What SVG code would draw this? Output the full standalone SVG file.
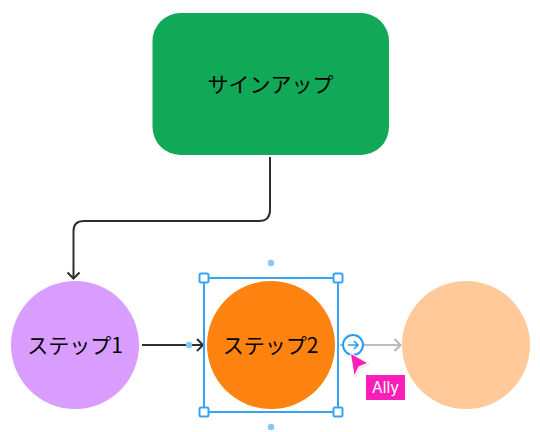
<svg xmlns="http://www.w3.org/2000/svg" width="540" height="432" viewBox="0 0 540 432">
<defs>
<style>
text{font-family:"Inter","Noto Sans CJK JP",sans-serif;}
.lb{font-size:21px;fill:#000;text-anchor:middle;font-family:"Noto Sans CJK JP","Noto Sans",sans-serif;font-weight:400;}
.c{fill:none;stroke:#2e2e2e;stroke-width:2;}
.h{fill:#fff;stroke:#38a3f5;stroke-width:2;}
.d{fill:#85c8f8;}
</style>
</defs>
<rect width="540" height="432" fill="#fff"/>
<g id="connectors">
<path class="c" d="M270 157V210Q270 221 259 221H84Q73.500 221 73.500 231V277"/>
<path class="c" d="M67.500 272.500L73.500 278.500L79.500 272.500"/>
<path class="c" d="M142 345H202"/>
<path class="c" d="M197 339L203 345L197 351"/>
<path d="M340 345H400" fill="none" stroke="#bdbdbd" stroke-width="2"/>
<path d="M394.500 339L400.500 345L394.500 351" fill="none" stroke="#b5b5b5" stroke-width="2"/>
</g>
<g id="signup">
<rect x="152.500" y="13" width="236.500" height="142" rx="28" fill="#11a858"/>
<text class="lb" x="270.500" y="92">サインアップ</text>
</g>
<g id="step1">
<circle cx="75" cy="345" r="64" fill="#d89dff"/>
<text class="lb" x="75" y="353">ステップ1</text>
</g>
<g id="step2">
<circle cx="271" cy="345" r="64" fill="#ff8310"/>
<text class="lb" x="270.500" y="353">ステップ2</text>
</g>
<g id="step3">
<circle cx="466" cy="345" r="64" fill="#ffc999"/>
</g>
<g id="selection">
<rect x="204" y="278" width="134" height="134" fill="none" stroke="#38a3f5" stroke-width="2"/>
<rect class="h" x="199.500" y="273.500" width="9" height="9" rx="1.500"/>
<rect class="h" x="333.500" y="273.500" width="9" height="9" rx="1.500"/>
<rect class="h" x="199.500" y="407.500" width="9" height="9" rx="1.500"/>
<rect class="h" x="333.500" y="407.500" width="9" height="9" rx="1.500"/>
<circle class="d" cx="271" cy="263" r="3.200"/>
<circle class="d" cx="271" cy="427" r="3.200"/>
<circle class="d" cx="189" cy="345" r="3.200"/>
</g>
<g id="add-button">
<circle cx="353" cy="345" r="10" fill="#fff" stroke="#2a9cf5" stroke-width="2"/>
<path d="M348 345H358M354 341L358 345L354 349" fill="none" stroke="#2a9cf5" stroke-width="1.700"/>
</g>
<g id="cursor">
<path d="M351 354L367 363L358.500 366.500L354.500 375Z" fill="#e8e8e8" stroke="#e8e8e8" stroke-width="3" stroke-linejoin="round" transform="translate(0.500 1)"/>
<path d="M351 354L367 363L358.500 366.500L354.500 375Z" fill="#f91fb8" stroke="#fff" stroke-width="2" stroke-linejoin="round" paint-order="stroke"/>
<rect x="366" y="375" width="39" height="25" fill="#f91fb8"/>
<text x="385.500" y="393" font-size="15.500" fill="#fff" text-anchor="middle">Ally</text>
</g>
</svg>
